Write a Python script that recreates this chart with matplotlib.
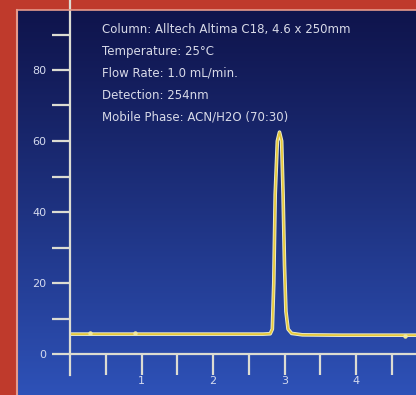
import matplotlib.pyplot as plt
import numpy as np

# chromatogram trace (time in min, response)
time = [0.0, 0.28, 0.91, 1.5, 2.2, 2.70, 2.80, 2.83, 2.85, 2.87, 2.90, 2.93,
        2.96, 2.98, 3.00, 3.02, 3.05, 3.10, 3.25, 3.8, 4.4, 4.84]
signal = [5.6, 5.6, 5.6, 5.6, 5.6, 5.6, 5.7, 7.0, 20.0, 45.0, 60.0, 62.5,
          60.0, 45.0, 25.0, 12.0, 7.0, 5.8, 5.4, 5.3, 5.3, 5.3]
event_t = [0.28, 0.91, 4.68]
event_y = [5.8, 5.8, 5.0]

xticks = [1, 2, 3, 4]
xminor = [0.5, 1.5, 2.5, 3.5, 4.5]
yticks = [0, 20, 40, 60, 80]
yminor = [10, 30, 50, 70, 90]

notes = ["Column: Alltech Altima C18, 4.6 x 250mm",
         "Temperature: 25\u00b0C",
         "Flow Rate: 1.0 mL/min.",
         "Detection: 254nm",
         "Mobile Phase: ACN/H2O (70:30)"]

W, H = 416, 395
fig = plt.figure(figsize=(W/100, H/100), dpi=100, facecolor='#bf3a2c')

# blue panel with gradient
bg = fig.add_axes([18/W, 0, 1-18/W, (H-10)/H])
grad = np.linspace(0, 1, 256).reshape(-1, 1)
top = np.array([0.06, 0.08, 0.30])
bot = np.array([0.18, 0.32, 0.72])
img = top + (bot-top)*grad[:, :, None]**1.1
bg.imshow(img, aspect='auto', extent=[0, 1, 0, 1], origin='upper')
bg.axis('off')
# light inner edge of red frame
fig.add_artist(plt.Line2D([17/W, 17/W], [0, (H-10)/H], color='#e59a8c', lw=1.5))
fig.add_artist(plt.Line2D([17/W, 1], [(H-10)/H, (H-10)/H], color='#e59a8c', lw=1.2))

ax = fig.add_axes([70/W, 0, (W-70)/W, (H-10)/H])
ax.patch.set_alpha(0)
px = 71.5  # pixels per minute
py = 71/20  # pixels per unit
ax.set_xlim(0, (W-70)/px)
ax.set_ylim(-(H-354)/py, (354-10)/py)

axcol = '#dcdcd2'
for s in ['top', 'right']:
    ax.spines[s].set_visible(False)
ax.spines['bottom'].set_position(('data', 0))
ax.spines['left'].set_position(('data', 0))
ax.spines['bottom'].set_color(axcol)
ax.spines['left'].set_color(axcol)
ax.spines['bottom'].set_linewidth(1.6)
ax.spines['left'].set_linewidth(1.6)
ax.spines['left'].set_bounds(-6, 100)

ax.set_xticks(xticks)
ax.set_xticks(xminor, minor=True)
ax.set_yticks(yticks)
ax.set_yticks(yminor, minor=True)
ax.tick_params(axis='x', which='both', direction='out', length=15, width=1.6,
               color=axcol, labelcolor='#d4daee', labelsize=8, pad=1)
ax.tick_params(axis='y', which='both', direction='out', length=13, width=1.6,
               color=axcol, labelcolor='#d4daee', labelsize=8, pad=4)

ax.plot(time, signal, color='#eeeecc', lw=2.6, solid_joinstyle='round')
ax.plot(time, signal, color='#e6c83a', lw=1.3, solid_joinstyle='round')
ax.plot(event_t, event_y, 'o', color='#f0e8a0', ms=2.2)

for i, t in enumerate(notes):
    fig.text(102/W, 1-(30+21.7*i)/H, t, color='#d8dae8', fontsize=8.5,
             va='center', ha='left')

fig.savefig('out.png', dpi=100, facecolor=fig.get_facecolor())
